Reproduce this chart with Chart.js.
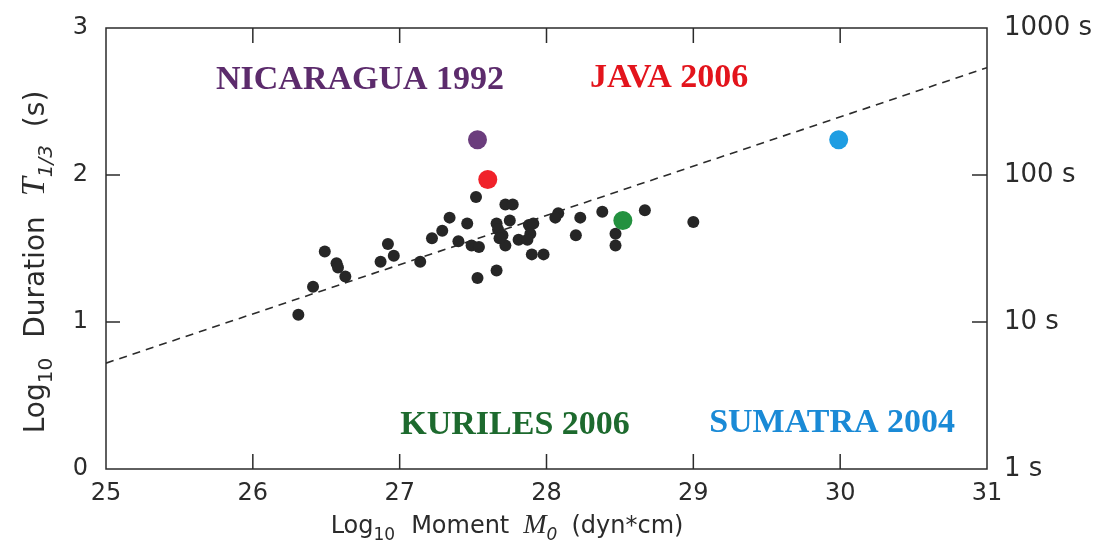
<!DOCTYPE html>
<html>
<head>
<meta charset="utf-8">
<script src="https://cdn.jsdelivr.net/npm/chart.js@4/dist/chart.umd.min.js"></script>
<style>
html, body { margin: 0; padding: 0; background: #fff; }
</style>
</head>
<body>
<canvas id="chart" width="1117" height="546"></canvas>
<script>
(function(){
// log10 moment (dyn*cm) and log10 duration T1/3 (s) of the other events
const momentX = [26.31, 26.41, 26.49, 26.57, 26.58, 26.63, 26.87, 26.92, 26.96, 27.14,
    27.22, 27.29, 27.34, 27.40, 27.46, 27.49, 27.54, 27.52, 27.53, 27.66,
    27.66, 27.67, 27.70, 27.72, 27.72, 27.77, 27.75, 27.81, 27.88, 27.91,
    27.89, 27.87, 27.90, 27.98, 28.08, 28.06, 28.20, 28.23, 28.38, 28.47,
    28.47, 28.67, 29.00, 27.68];
const durationY = [1.05, 1.24, 1.48, 1.40, 1.37, 1.31, 1.41, 1.53, 1.45, 1.41,
    1.57, 1.62, 1.71, 1.55, 1.67, 1.52, 1.51, 1.85, 1.30, 1.35,
    1.67, 1.63, 1.59, 1.52, 1.80, 1.80, 1.69, 1.56, 1.66, 1.67,
    1.60, 1.56, 1.46, 1.46, 1.74, 1.71, 1.59, 1.71, 1.75, 1.60,
    1.52, 1.76, 1.68, 1.57];

// highlighted events
const eventNames = ['NICARAGUA 1992', 'JAVA 2006', 'KURILES 2006', 'SUMATRA 2004'];
const eventX = [27.53, 27.60, 28.52, 29.99];
const eventY = [2.24, 1.97, 1.69, 2.24];
const eventColors = ['#6b3d7d', '#f0222a', '#23913f', '#1e9de2'];
const eventLabelX = [26.73, 28.835, 27.786, 29.945];
const eventLabelY = [2.645, 2.66, 0.30, 0.31];
const eventLabelColors = ['#5c2b6c', '#e3141c', '#1d6a2e', '#1a8ad6'];

// dashed reference line
const fitX = [25, 31];
const fitY = [0.72, 2.73];

const xTicks = [25, 26, 27, 28, 29, 30, 31];
const yTicks = [0, 1, 2, 3];
const rightTickLabels = ['1 s', '10 s', '100 s', '1000 s'];

const ink = '#2b2b2b';
const tickFont = { family: '"DejaVu Sans"', size: 24 };

function drawRich(ctx, parts, cx, cy, rot) {
    ctx.save();
    ctx.translate(cx, cy);
    ctx.rotate(rot);
    let total = 0;
    parts.forEach(p => {
        ctx.font = p.font;
        p.w = ctx.measureText(p.text).width;
        total += p.w + (p.gap || 0);
    });
    let x = -total / 2;
    ctx.textAlign = 'left';
    ctx.textBaseline = 'alphabetic';
    ctx.fillStyle = ink;
    parts.forEach(p => {
        x += p.gap || 0;
        ctx.font = p.font;
        ctx.fillText(p.text, x, p.dy || 0);
        x += p.w;
    });
    ctx.restore();
}

const framePlugin = {
    id: 'frame',
    afterDraw(chart) {
        const ctx = chart.ctx;
        const a = chart.chartArea;
        const xs = chart.scales.x, ys = chart.scales.y;
        ctx.save();
        ctx.strokeStyle = ink;
        ctx.lineWidth = 1.5;
        ctx.strokeRect(a.left, a.top, a.right - a.left, a.bottom - a.top);
        ctx.beginPath();
        xTicks.slice(1, -1).forEach(v => {
            const px = xs.getPixelForValue(v);
            ctx.moveTo(px, a.bottom); ctx.lineTo(px, a.bottom - 15);
            ctx.moveTo(px, a.top); ctx.lineTo(px, a.top + 15);
        });
        yTicks.slice(1, -1).forEach(v => {
            const py = ys.getPixelForValue(v);
            ctx.moveTo(a.left, py); ctx.lineTo(a.left + 14, py);
            ctx.moveTo(a.right, py); ctx.lineTo(a.right - 15, py);
        });
        ctx.stroke();

        ctx.font = 'bold 34px "Liberation Serif"';
        ctx.textAlign = 'center';
        ctx.textBaseline = 'middle';
        eventNames.forEach((name, i) => {
            ctx.fillStyle = eventLabelColors[i];
            ctx.fillText(name, xs.getPixelForValue(eventLabelX[i]), ys.getPixelForValue(eventLabelY[i]));
        });
        ctx.restore();

        const sans = '"DejaVu Sans"';
        drawRich(ctx, [
            { text: 'Log', font: '24px ' + sans },
            { text: '10', font: '17px ' + sans, dy: 7 },
            { text: 'Moment', font: '24px ' + sans, gap: 16 },
            { text: 'M', font: 'italic 28px "Liberation Serif"', gap: 14 },
            { text: '0', font: 'italic 17px ' + sans, dy: 7 },
            { text: '(dyn*cm)', font: '24px ' + sans, gap: 14 }
        ], 507, 533, 0);
        drawRich(ctx, [
            { text: 'Log', font: '28px ' + sans },
            { text: '10', font: '20px ' + sans, dy: 8 },
            { text: 'Duration', font: '28px ' + sans, gap: 20 },
            { text: 'T', font: 'italic 34px "Liberation Serif"', gap: 20 },
            { text: '1/3', font: 'italic 20px ' + sans, dy: 8 },
            { text: '(s)', font: '28px ' + sans, gap: 18 }
        ], 44, 262, -Math.PI / 2);
    }
};

new Chart(document.getElementById('chart'), {
    type: 'scatter',
    data: {
        datasets: [{
            data: eventX.map((x, i) => ({ x: x, y: eventY[i] })),
            pointRadius: 9.5,
            pointBackgroundColor: eventColors,
            pointBorderWidth: 0
        }, {
            data: momentX.map((x, i) => ({ x: x, y: durationY[i] })),
            pointRadius: 6,
            pointBackgroundColor: '#262626',
            pointBorderWidth: 0
        }, {
            type: 'line',
            data: fitX.map((x, i) => ({ x: x, y: fitY[i] })),
            borderColor: ink,
            borderWidth: 1.6,
            borderDash: [8, 6],
            pointRadius: 0,
            fill: false
        }]
    },
    options: {
        responsive: false,
        animation: false,
        devicePixelRatio: 1,
        layout: { padding: { top: 28, left: 0, right: 0, bottom: 0 } },
        plugins: { legend: { display: false }, tooltip: { enabled: false } },
        scales: {
            x: {
                type: 'linear', min: 25, max: 31,
                grid: { display: false }, border: { display: false },
                ticks: { stepSize: 1, color: ink, font: tickFont, padding: 2 },
                afterFit: s => { s.height = 77; }
            },
            y: {
                position: 'left', min: 0, max: 3,
                grid: { display: false }, border: { display: false },
                ticks: { stepSize: 1, color: ink, font: tickFont, padding: 10 },
                afterFit: s => { s.width = 106; }
            },
            y2: {
                position: 'right', min: 0, max: 3,
                grid: { display: false }, border: { display: false },
                ticks: {
                    stepSize: 1, color: ink, font: { family: '"DejaVu Sans"', size: 26 }, padding: 9,
                    callback: v => rightTickLabels[yTicks.indexOf(v)]
                },
                afterFit: s => { s.width = 130; }
            }
        }
    },
    plugins: [framePlugin]
});
}());
</script>
</body>
</html>
